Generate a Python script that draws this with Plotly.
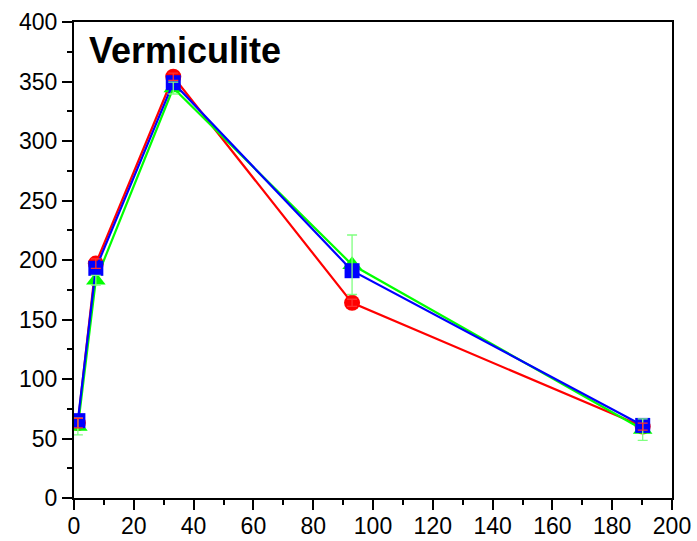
import plotly.graph_objects as go

x_vals = [1.3, 7.3, 33.2, 93.0, 190.2]
red_y = [63, 197, 354, 164, 60]
red_err = [4, 4, 3, 3, 3]
green_y = [60, 183, 344.5, 196, 57.5]
green_err = [7, 4, 5, 25, 9]
blue_y = [65, 193, 349, 191, 61]
blue_err = [3, 3, 3, 3, 3]

fig = go.Figure()

series = [
    ("red", red_y, red_err, "circle", "#ff0000", "#ff3030", 16),
    ("green", green_y, green_err, "triangle-up", "#00ff00", "#80ff80", 17),
    ("blue", blue_y, blue_err, "square", "#0000ff", "#0000ff", 15),
]

for name, ys, errs, sym, col, ecol, sz in series:
    fig.add_trace(go.Scatter(
        x=x_vals, y=ys, mode="lines+markers", name=name,
        line=dict(color=col, width=2.2),
        marker=dict(symbol=sym, size=sz, color=col, line=dict(width=0)),
        showlegend=False,
    ))

for idx in [2, 1, 0]:
    name, ys, errs, sym, col, ecol, sz = series[idx]
    fig.add_trace(go.Scatter(
        x=x_vals, y=ys, mode="markers",
        marker=dict(size=0.1, color=ecol, opacity=0),
        error_y=dict(type="data", array=errs, visible=True, color=ecol,
                     thickness=1.3, width=5),
        showlegend=False, hoverinfo="skip",
    ))

axis_common = dict(
    showgrid=False, zeroline=False, showline=True, linecolor="black",
    linewidth=2, mirror=True, ticks="outside", ticklen=10, tickwidth=1.5,
    tickcolor="black", automargin=False,
    tickfont=dict(family="Liberation Sans, Arial, sans-serif", size=23, color="black"),
)

fig.update_xaxes(range=[0, 200], dtick=20, tick0=0, ticklabelstandoff=-4,
                 minor=dict(dtick=10, ticklen=5, ticks="outside", tickcolor="black", tickwidth=1.5),
                 **axis_common)
fig.update_yaxes(range=[0, 400], dtick=50, tick0=0,
                 minor=dict(dtick=25, ticklen=5, ticks="outside", tickcolor="black", tickwidth=1.5),
                 **axis_common)

fig.add_annotation(
    text="<b>Vermiculite</b>", xref="paper", yref="paper",
    x=0.022, y=0.988, xanchor="left", yanchor="top", showarrow=False,
    font=dict(family="Liberation Sans, Arial, sans-serif", size=36, color="black"),
)

fig.update_layout(
    width=697, height=541,
    margin=dict(l=74, r=25, t=22, b=43),
    plot_bgcolor="white", paper_bgcolor="white",
)

fig.write_html("out.html")
